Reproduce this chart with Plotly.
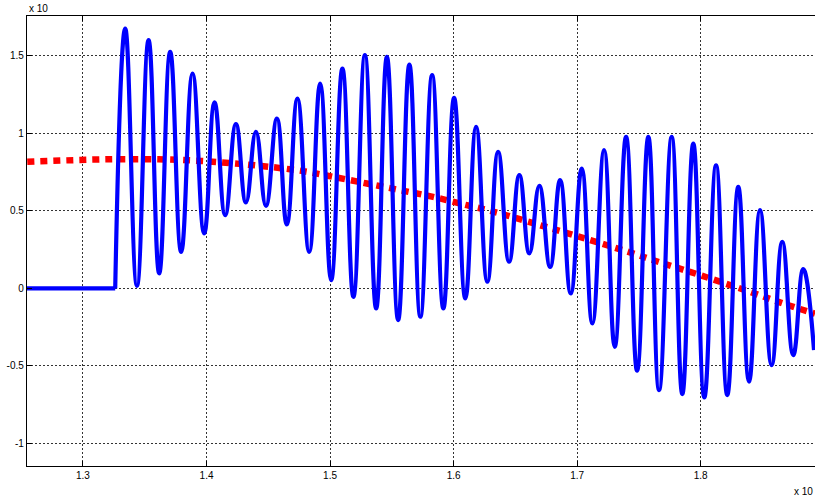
import plotly.graph_objects as go

# Blue signal: flat start, then local extrema (peak/trough alternating)
flat_x = [1.2547, 1.3261]
flat_y = [0.0, 0.0]

osc_x = [1.3261, 1.3342, 1.3437, 1.3531, 1.3617, 1.3706, 1.3795, 1.3887, 1.3981,
         1.4065, 1.4151, 1.4238, 1.4319, 1.4400, 1.4481, 1.4570, 1.4650, 1.4736,
         1.4831, 1.4920, 1.5009, 1.5100, 1.5189, 1.5282, 1.5373, 1.5460, 1.5551,
         1.5642, 1.5731, 1.5826, 1.5917, 1.6004, 1.6095, 1.6182, 1.6273, 1.6360,
         1.6449, 1.6532, 1.6613, 1.6694, 1.6781, 1.6862, 1.6948, 1.7037, 1.7123,
         1.7218, 1.7304, 1.7396, 1.7485, 1.7576, 1.7663, 1.7765, 1.7851, 1.7940,
         1.8029, 1.8124, 1.8215, 1.8304, 1.8391, 1.8480, 1.8574, 1.8660, 1.8749,
         1.8830, 1.8917]
osc_y = [0.0, 1.677, 0.017, 1.602, 0.097, 1.526, 0.236, 1.387, 0.355,
         1.200, 0.473, 1.060, 0.555, 1.010, 0.533, 1.096, 0.413, 1.225,
         0.236, 1.322, 0.054, 1.419, -0.054, 1.505, -0.129, 1.494, -0.204,
         1.445, -0.183, 1.376, -0.129, 1.229, -0.065, 1.042, 0.043, 0.881,
         0.172, 0.731, 0.226, 0.662, 0.139, 0.699, -0.032, 0.774, -0.226,
         0.892, -0.377, 0.978, -0.531, 0.978, -0.656, 0.978, -0.682, 0.935,
         -0.703, 0.795, -0.688, 0.655, -0.602, 0.505, -0.495, 0.301, -0.430,
         0.124, -0.398]

# Red trend line
trend_x = [1.2549, 1.3302, 1.3949, 1.4731, 1.5025, 1.5298, 1.5567, 1.5834, 1.6107,
           1.6295, 1.6700, 1.7104, 1.7428, 1.7655, 1.7995, 1.8399, 1.8666, 1.8925]
trend_y = [0.817, 0.834, 0.823, 0.763, 0.720, 0.677, 0.634, 0.591, 0.537,
           0.501, 0.408, 0.312, 0.232, 0.172, 0.086, -0.022, -0.097, -0.163]

x_ticks = [1.3, 1.4, 1.5, 1.6, 1.7, 1.8]
x_tick_labels = ["1.3", "1.4", "1.5", "1.6", "1.7", "1.8"]
y_ticks = [-1, -0.5, 0, 0.5, 1, 1.5]
y_tick_labels = ["-1", "-0.5", "0", "0.5", "1", "1.5"]

fig = go.Figure()
fig.add_trace(go.Scatter(x=trend_x, y=trend_y, mode="lines",
                         line=dict(color="#ff0000", width=6.5, dash="7px,6px", shape="spline"),
                         showlegend=False, hoverinfo="skip"))
fig.add_trace(go.Scatter(x=flat_x, y=flat_y, mode="lines",
                         line=dict(color="#0000ff", width=4.2),
                         showlegend=False, hoverinfo="skip"))
fig.add_trace(go.Scatter(x=osc_x, y=osc_y, mode="lines",
                         line=dict(color="#0000ff", width=4.2, shape="spline", smoothing=1.3),
                         showlegend=False, hoverinfo="skip"))

axis_font = dict(family="Liberation Sans, Arial, sans-serif", size=10, color="#000")

fig.update_layout(
    width=815, height=500,
    margin=dict(l=27, r=0, t=16, b=34),
    paper_bgcolor="white", plot_bgcolor="white",
    font=axis_font,
    xaxis=dict(range=[1.2547, 1.8925], tickvals=x_ticks, ticktext=x_tick_labels,
               showgrid=True, gridcolor="#333", griddash="2px,2px", gridwidth=1,
               zeroline=False, showline=True, linecolor="#000", linewidth=1.3,
               mirror="ticks", ticks="inside", ticklen=5, tickcolor="#000",
               tickfont=axis_font, automargin=False),
    yaxis=dict(range=[-1.146, 1.758], tickvals=y_ticks, ticktext=y_tick_labels,
               showgrid=True, gridcolor="#333", griddash="2px,2px", gridwidth=1,
               zeroline=False, showline=True, linecolor="#000", linewidth=1.3,
               ticks="inside", ticklen=5, tickcolor="#000", tickfont=axis_font,
               automargin=False),
    annotations=[
        dict(text="x 10", xref="paper", yref="paper", x=0, y=1, xanchor="left",
             yanchor="middle", yshift=8, showarrow=False,
             font=dict(family="Liberation Sans, Arial, sans-serif", size=10, color="#000")),
        dict(text="x 10", xref="paper", yref="paper", x=1, y=0, xanchor="right",
             yanchor="middle", yshift=-25, showarrow=False,
             font=dict(family="Liberation Sans, Arial, sans-serif", size=10, color="#000")),
    ],
)

fig.write_html("out.html", config={"displayModeBar": False},
               post_script="document.body.style.margin='0';document.body.style.overflow='hidden';")
